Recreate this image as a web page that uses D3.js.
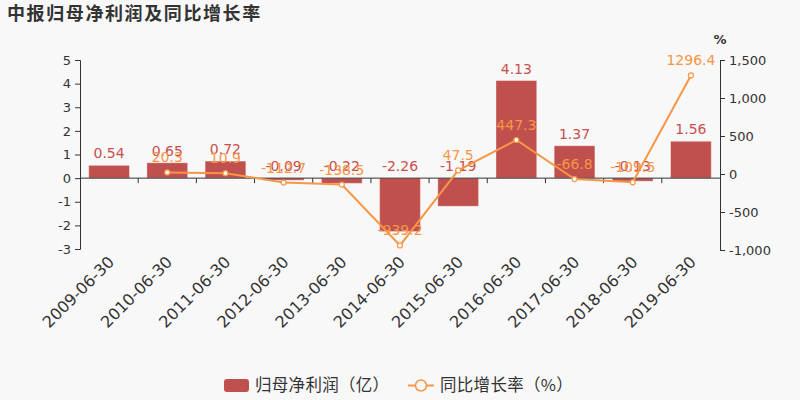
<!DOCTYPE html>
<html><head><meta charset="utf-8">
<script src="https://cdn.jsdelivr.net/npm/d3@7/dist/d3.min.js"></script>
<style>body{margin:0;background:#f8f8f8;}svg{display:block;font-family:"DejaVu Sans","Noto Sans CJK SC",sans-serif;}</style>
</head><body><svg id="c" width="800" height="400"></svg>
<script>
const categories = ["2009-06-30","2010-06-30","2011-06-30","2012-06-30","2013-06-30","2014-06-30","2015-06-30","2016-06-30","2017-06-30","2018-06-30","2019-06-30"];
const profit = [0.54,0.65,0.72,-0.09,-0.22,-2.26,-1.19,4.13,1.37,-0.13,1.56];
const growth = [null,20.3,10.9,-112.7,-138.5,-939.2,47.5,447.3,-66.8,-109.5,1296.4];
const leftTicks = [-3,-2,-1,0,1,2,3,4,5];
const rightTicks = [-1000,-500,0,500,1000,1500];
const title = "中报归母净利润及同比增长率";
const legendNames = ["归母净利润（亿）","同比增长率（%）"];

const barColor = "#c0504d", lineColor = "#f79646", textColor = "#333";
const svg = d3.select("#c");
svg.append("rect").attr("width",800).attr("height",400).attr("fill","#f8f8f8");

const x = d3.scaleBand().domain(categories).range([80,720]).paddingInner(0.3).paddingOuter(0.15);
const xb = d3.scaleBand().domain(categories).range([80,720]);
const yL = d3.scaleLinear().domain([-3,5]).range([249,60]);
const yR = d3.scaleLinear().domain([-1000,1500]).range([250,60]);
const hy = s => s.replace(/\u2212/g,"-");

// title
svg.append("text").attr("x",7).attr("y",20).text(title)
  .attr("font-size",18).attr("font-weight","bold").attr("fill",textColor)
  .attr("letter-spacing","1.6px").attr("font-family","'Noto Sans CJK SC',sans-serif");

// left axis
const gL = svg.append("g").attr("transform","translate(80,0)")
  .call(d3.axisLeft(yL).tickValues(leftTicks).tickSize(5).tickPadding(4).tickFormat(d=>hy(d3.format("d")(d))));
gL.selectAll("text").attr("font-size",13).attr("fill",textColor).attr("font-family","DejaVu Sans");
gL.selectAll("line,path").attr("stroke",textColor);

// right axis
const gR = svg.append("g").attr("transform","translate(720,0)")
  .call(d3.axisRight(yR).tickValues(rightTicks).tickSize(5).tickPadding(4).tickFormat(d=>hy(d3.format(",")(d))));
gR.selectAll("text").attr("font-size",13).attr("fill",textColor).attr("font-family","DejaVu Sans");
gR.selectAll("line,path").attr("stroke",textColor);
svg.append("text").attr("x",720).attr("y",44).attr("text-anchor","middle").text("%")
  .attr("font-size",13).attr("font-weight","bold").attr("fill",textColor);

// bars
svg.append("g").selectAll("rect").data(profit).join("rect")
  .attr("x",(d,i)=>x(categories[i]))
  .attr("width",x.bandwidth())
  .attr("y",d=>Math.min(yL(d),yL(0)))
  .attr("height",d=>Math.abs(yL(d)-yL(0)))
  .attr("fill",barColor).attr("stroke","rgba(255,255,255,0.35)").attr("stroke-width",1);

// x axis at zero
const y0 = yL(0);
svg.append("line").attr("x1",80).attr("x2",720).attr("y1",y0).attr("y2",y0).attr("stroke",textColor);
svg.append("g").selectAll("line").data(categories.slice(1)).join("line")
  .attr("x1",d=>xb(d)).attr("x2",d=>xb(d)).attr("y1",y0).attr("y2",y0+5).attr("stroke",textColor);

// x labels
svg.append("g").selectAll("text").data(categories).join("text")
  .attr("transform",d=>`translate(${xb(d)+xb.bandwidth()/2+6},${263}) rotate(-45)`)
  .attr("text-anchor","end").text(d=>d)
  .attr("font-size",16).attr("fill",textColor);

// bar labels
svg.append("g").selectAll("text").data(profit).join("text")
  .attr("x",(d,i)=>xb(categories[i])+xb.bandwidth()/2)
  .attr("y",d=>Math.min(yL(d),y0)-7)
  .attr("text-anchor","middle").text(d=>d.toFixed(2))
  .attr("font-size",14).attr("fill","#c94f4c");

// line
const pts = growth.map((v,i)=>({v,c:categories[i]})).filter(d=>d.v!==null);
const cx = d=>xb(d.c)+xb.bandwidth()/2;
svg.append("path").datum(pts)
  .attr("d",d3.line().x(cx).y(d=>yR(d.v)))
  .attr("fill","none").attr("stroke",lineColor).attr("stroke-width",2);
svg.append("g").selectAll("circle").data(pts).join("circle")
  .attr("cx",cx).attr("cy",d=>yR(d.v)).attr("r",2.5)
  .attr("fill","#fff").attr("stroke",lineColor).attr("stroke-width",1.2);
svg.append("g").selectAll("text").data(pts).join("text")
  .attr("x",cx).attr("y",d=>yR(d.v)-10)
  .attr("text-anchor","middle").text(d=>d.v.toFixed(1))
  .attr("font-size",14).attr("fill",lineColor);

// legend
const lg = svg.append("g");
lg.append("rect").attr("x",224).attr("y",379).attr("width",25).attr("height",13).attr("rx",3).attr("fill",barColor);
lg.append("text").attr("x",255).attr("y",391).text(legendNames[0]).attr("font-size",16.5).attr("fill",textColor)
  .attr("letter-spacing","0.3px").attr("font-family","'Noto Sans CJK SC',sans-serif");
lg.append("line").attr("x1",408).attr("x2",434).attr("y1",385.5).attr("y2",385.5).attr("stroke",lineColor).attr("stroke-width",2);
lg.append("circle").attr("cx",421).attr("cy",385.5).attr("r",5.5).attr("fill","#f8f8f8").attr("stroke",lineColor).attr("stroke-width",1.5);
lg.append("text").attr("x",440).attr("y",391).text(legendNames[1]).attr("font-size",16.5).attr("fill",textColor)
  .attr("letter-spacing","0.3px").attr("font-family","'Noto Sans CJK SC',sans-serif");
</script></body></html>
